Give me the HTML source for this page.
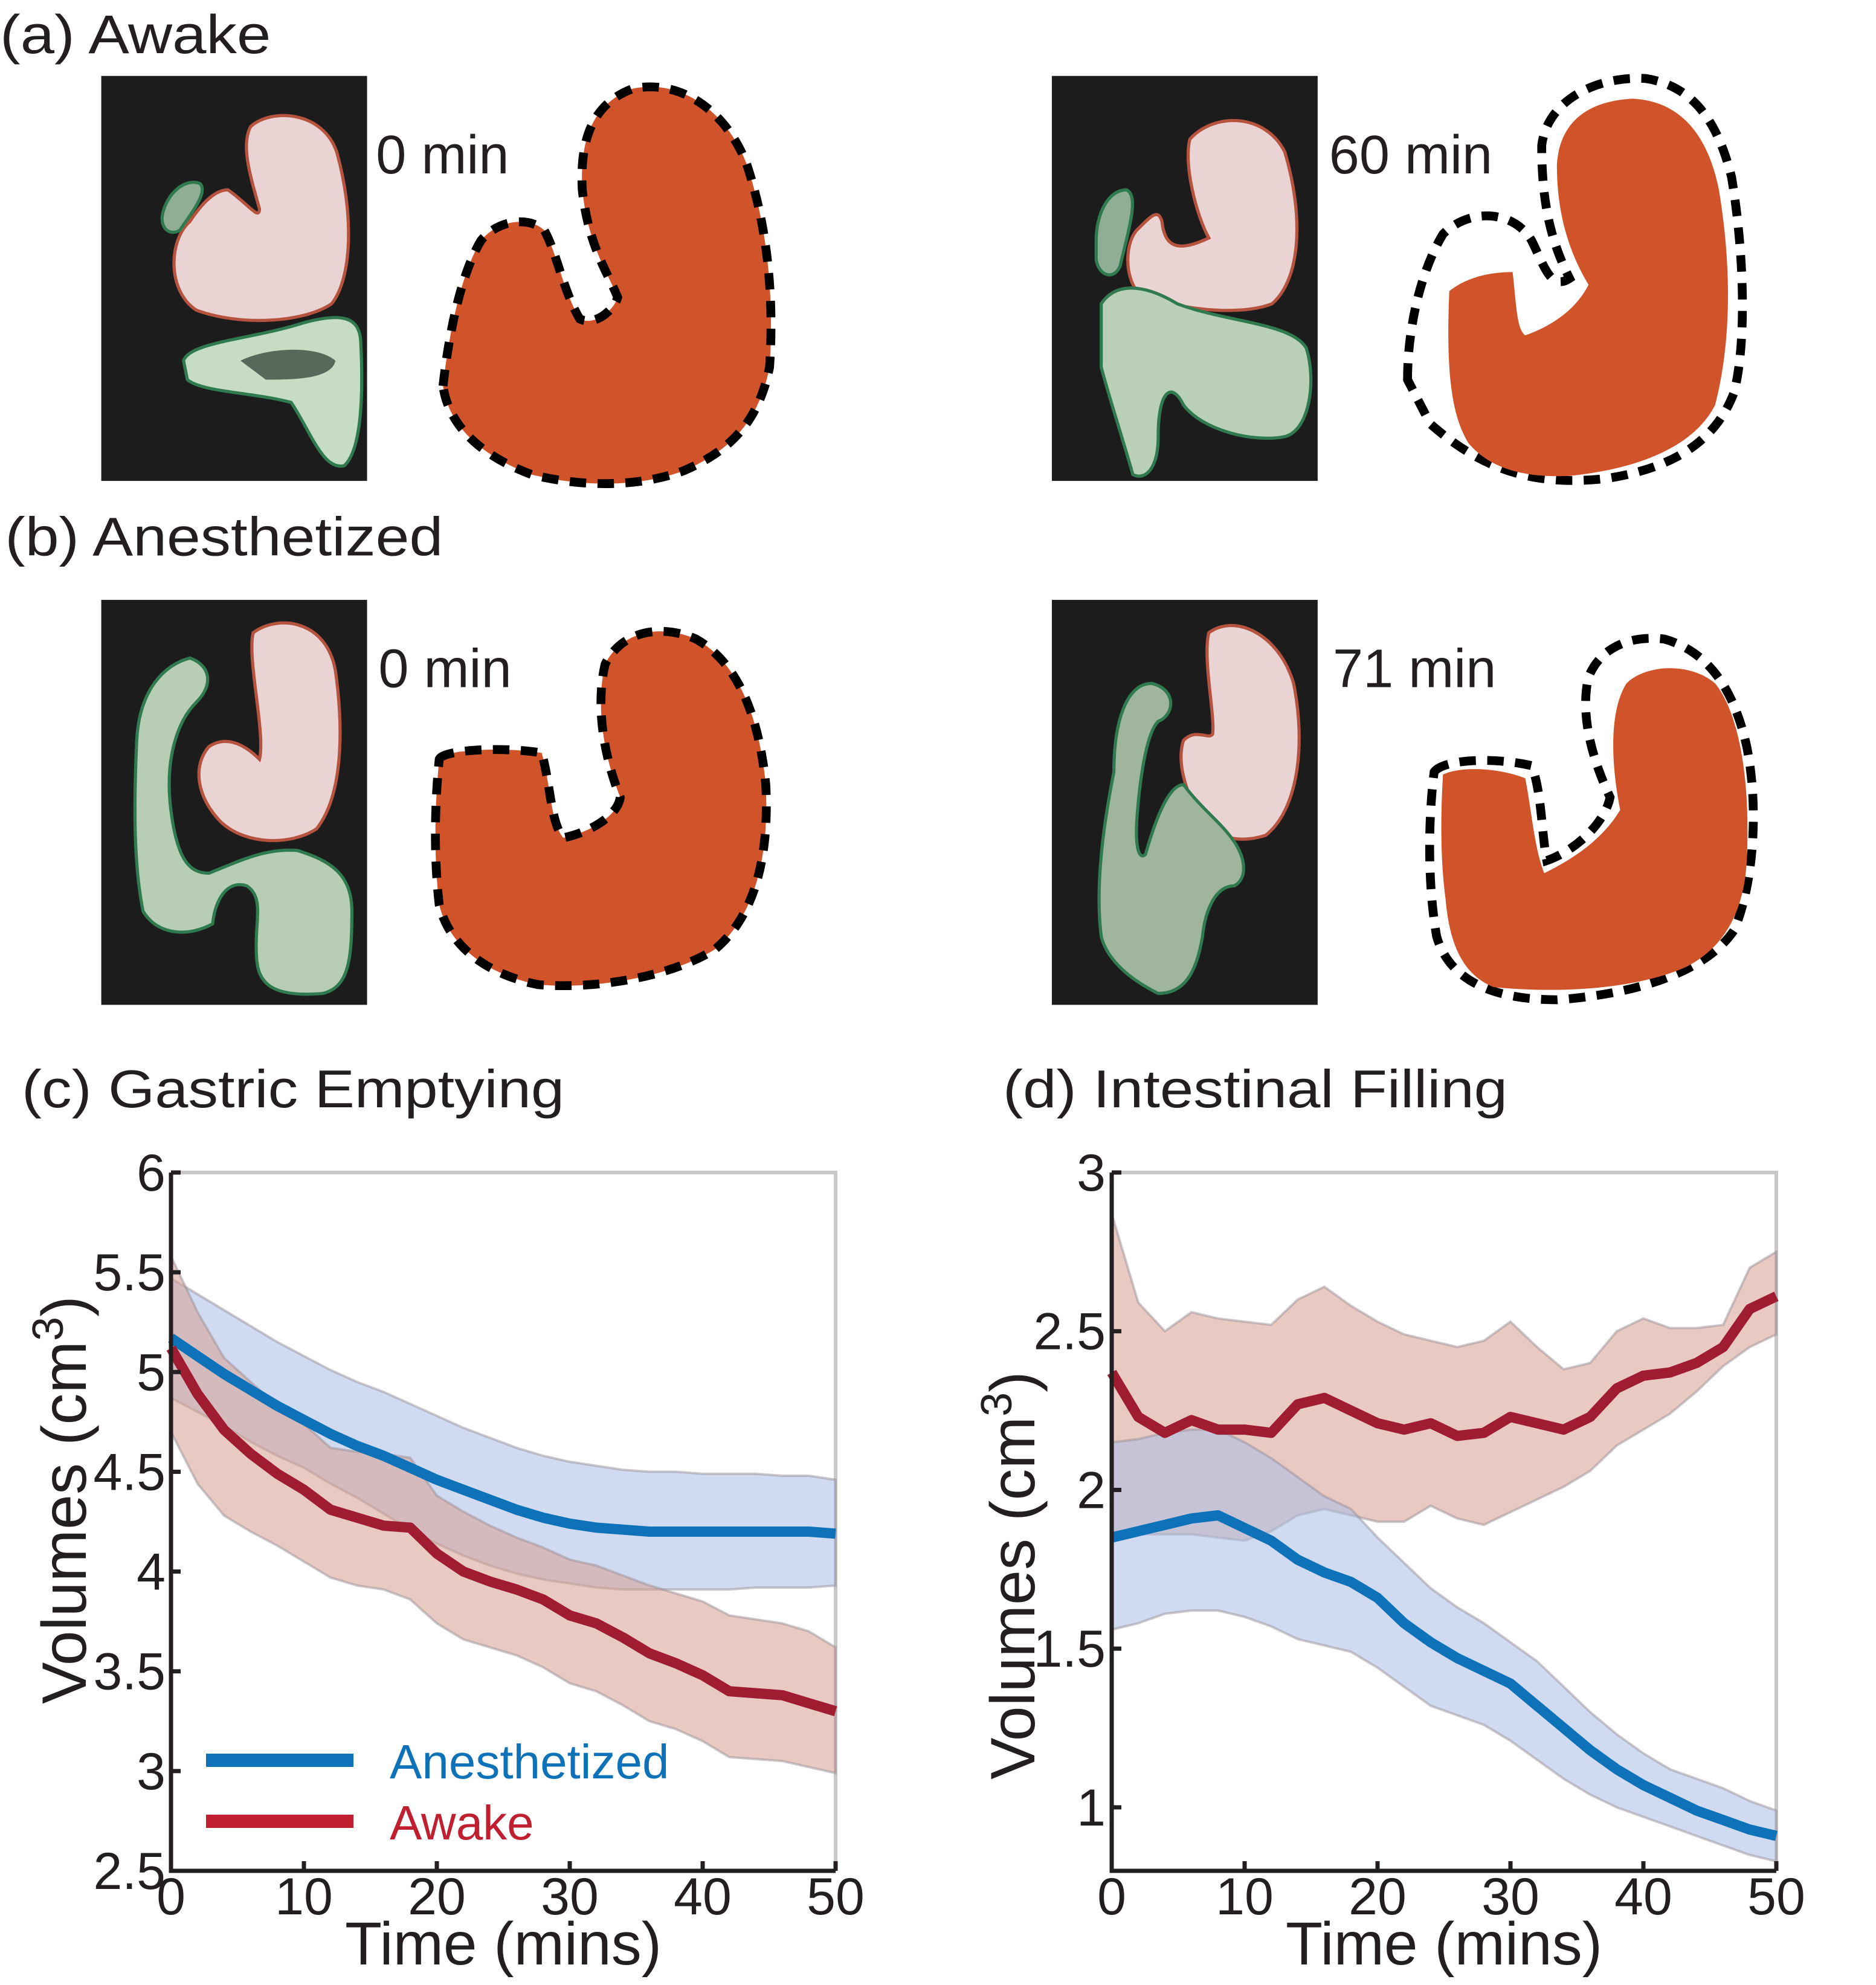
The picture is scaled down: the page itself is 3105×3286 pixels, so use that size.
<!DOCTYPE html>
<html><head><meta charset="utf-8"><style>
html,body{margin:0;padding:0;background:#fff}
svg{display:block}
text{font-family:"Liberation Sans",sans-serif;fill:#231f20}
</style></head><body>
<svg id="fig" width="3105" height="3286" viewBox="0 0 3105 3286" xmlns="http://www.w3.org/2000/svg">
<rect width="3105" height="3286" fill="#fff"/>
<g transform="scale(2.095)">
 <text x="0" y="42" font-size="43" textLength="214" lengthAdjust="spacingAndGlyphs">(a) Awake</text>
 <text x="4" y="439" font-size="43" textLength="346" lengthAdjust="spacingAndGlyphs">(b) Anesthetized</text>

 <g>
  <rect x="80" y="60" width="210" height="320" fill="#1c1c1c"/>
  <path d="M198,100 C215,85 255,88 266,120 C280,170 278,220 262,240 C240,255 190,258 155,245 C132,230 133,190 150,175 C160,160 170,150 180,150 C195,160 205,175 205,165 C198,140 190,115 198,100Z" fill="#e9d3d3" stroke="#b5533f" stroke-width="2.5"/>
  <path d="M128,172 C130,155 145,140 158,145 C165,152 150,170 142,182 C135,186 128,182 128,172Z" fill="#8fae95" stroke="#2f7a4f" stroke-width="2.5"/>
  <path d="M145,285 C150,270 200,268 240,255 C270,247 284,250 285,270 C287,310 286,355 272,368 C255,372 245,340 230,318 C200,310 160,310 148,300Z" fill="#c6dcc4" stroke="#2f7a4f" stroke-width="2.5"/>
  <path d="M190,285 C210,275 250,272 265,285 C262,300 230,300 210,300 Z" fill="#56695a"/>
 </g>
 <text x="297" y="137" font-size="43">0 min</text>
 <g>
  <path d="M350,305 C355,260 365,215 380,190 C395,172 420,172 430,182 C440,200 445,230 458,252 C470,258 485,245 488,235 C480,215 465,195 460,150 C458,110 468,82 500,70 C540,62 575,90 590,130 C605,175 612,230 608,290 C600,330 580,355 540,372 C505,385 460,385 420,375 C385,362 355,340 350,305Z" fill="#d0532a" stroke="#000" stroke-width="7" stroke-dasharray="13,9"/>
 </g>

 <g>
  <rect x="831" y="60" width="210" height="320" fill="#1c1c1c"/>
  <path d="M940,110 C960,88 1000,90 1015,120 C1030,170 1028,220 1005,240 C980,250 930,245 900,232 C888,220 888,190 900,180 C910,170 915,165 918,175 C920,195 930,200 955,188 C945,170 935,130 940,110Z" fill="#e9d3d3" stroke="#b5533f" stroke-width="2.5"/>
  <path d="M866,190 C866,170 875,150 890,150 C900,155 892,180 885,210 C880,222 868,218 866,205Z" fill="#8fae95" stroke="#2f7a4f" stroke-width="2.5"/>
  <path d="M870,240 C880,225 900,222 930,240 C970,255 1020,255 1032,275 C1040,300 1035,340 1015,345 C990,350 950,340 935,320 C925,300 915,310 915,345 C915,370 905,380 895,375 C885,340 875,310 870,290Z" fill="#b9cfb6" stroke="#2f7a4f" stroke-width="2.5"/>
 </g>
 <text x="1050" y="137" font-size="43">60 min</text>
 <g>
  <path d="M1112,300 C1112,260 1122,215 1140,185 C1160,165 1195,165 1210,190 C1220,210 1225,230 1240,220 C1225,190 1218,160 1218,115 C1222,80 1260,60 1300,62 C1340,68 1358,100 1368,140 C1378,200 1380,270 1370,310 C1355,350 1320,370 1270,378 C1210,385 1170,370 1130,335 Z" fill="none" stroke="#000" stroke-width="7" stroke-dasharray="13,9"/>
  <path d="M1145,230 C1160,218 1180,215 1195,215 C1198,240 1198,260 1205,265 C1225,258 1245,245 1255,225 C1240,200 1230,170 1230,130 C1232,100 1250,80 1290,78 C1330,80 1350,110 1358,150 C1368,210 1368,270 1355,320 C1340,350 1300,370 1240,376 C1200,378 1175,368 1160,350 C1148,330 1142,300 1145,230Z" fill="#d0532a"/>
 </g>

 <g>
  <rect x="80" y="474" width="210" height="320" fill="#1c1c1c"/>
  <path d="M200,500 C220,485 258,490 265,530 C272,580 270,630 250,655 C230,668 195,668 175,650 C155,630 152,605 165,590 C180,580 195,590 205,600 C210,580 195,520 200,500Z" fill="#e9d3d3" stroke="#b5533f" stroke-width="2.5"/>
  <path d="M108,585 C110,545 130,525 150,520 C165,525 170,540 155,555 C140,570 130,600 135,640 C140,680 150,690 165,690 C190,680 210,670 235,672 C260,680 278,690 278,720 C278,760 275,780 255,785 C220,788 205,780 203,760 C200,730 210,710 195,700 C180,695 170,710 168,730 C150,740 125,740 113,720 C105,680 106,630 108,585Z" fill="#b7ceb4" stroke="#2f7a4f" stroke-width="2.5"/>
 </g>
 <text x="299" y="543" font-size="43">0 min</text>
 <g>
  <path d="M347,600 C350,592 400,590 428,595 C435,620 435,650 445,662 C465,658 488,645 490,630 C478,600 470,560 478,525 C490,500 520,492 550,505 C585,525 600,570 605,620 C608,680 595,725 565,750 C530,772 470,782 425,778 C385,770 355,748 347,715 C343,680 343,640 347,600Z" fill="#d0532a" stroke="#000" stroke-width="7" stroke-dasharray="13,9"/>
 </g>

 <g>
  <rect x="831" y="474" width="210" height="320" fill="#1c1c1c"/>
  <path d="M955,500 C975,485 1010,500 1022,540 C1032,590 1025,640 1000,660 C975,668 955,660 945,640 C935,620 930,600 935,585 C945,575 955,585 958,580 C960,565 950,520 955,500Z" fill="#e9d3d3" stroke="#b5533f" stroke-width="2.5"/>
  <path d="M880,610 C880,570 890,540 910,540 C930,545 928,565 915,570 C905,580 900,620 898,650 C897,670 900,680 905,675 C915,640 925,620 935,620 C950,640 965,650 975,665 C985,680 985,695 975,700 C960,700 952,720 950,740 C945,770 935,785 915,785 C895,775 875,760 870,740 C865,700 872,650 880,610Z" fill="#9fb69c" stroke="#2f7a4f" stroke-width="2.5"/>
 </g>
 <text x="1053" y="543" font-size="43">71 min</text>
 <g>
  <path d="M1133,610 C1140,600 1180,598 1210,605 C1218,625 1218,660 1222,680 C1245,672 1268,650 1272,630 C1258,600 1248,565 1255,535 C1265,510 1290,502 1315,505 C1350,515 1370,545 1380,590 C1390,640 1385,700 1370,735 C1350,765 1300,785 1230,790 C1180,790 1145,775 1135,740 C1128,700 1128,650 1133,610Z" fill="none" stroke="#000" stroke-width="7" stroke-dasharray="13,9"/>
  <path d="M1140,612 C1155,605 1185,607 1205,615 C1210,640 1212,670 1220,690 C1240,680 1265,665 1280,640 C1272,600 1272,560 1285,540 C1300,525 1335,523 1355,540 C1375,565 1383,620 1380,680 C1378,720 1362,750 1330,765 C1290,782 1230,785 1180,780 C1155,770 1145,745 1142,710 C1138,680 1138,645 1140,612Z" fill="#d0532a"/>
 </g>
</g>

<text x="36" y="1833" font-size="88" textLength="898" lengthAdjust="spacingAndGlyphs">(c) Gastric Emptying</text>
<text x="1660" y="1833" font-size="88" textLength="835" lengthAdjust="spacingAndGlyphs">(d) Intestinal Filling</text>
<g id="chartC"></g>
<g id="chartD"></g>
</svg>
<script>
const times = [0,2,4,6,8,10,12,14,16,18,20,22,24,26,28,30,32,34,36,38,40,42,44,46,48,50];
const xTicks = [0,10,20,30,40,50];
const cYTicks = [6,5.5,5,4.5,4,3.5,3,2.5];
const cAnesMean = [5.17,5.08,4.99,4.91,4.83,4.76,4.69,4.63,4.58,4.52,4.46,4.41,4.36,4.31,4.27,4.24,4.22,4.21,4.20,4.20,4.20,4.20,4.20,4.20,4.20,4.19];
const cAnesUpper = [5.47,5.39,5.31,5.23,5.15,5.08,5.01,4.95,4.90,4.84,4.78,4.72,4.67,4.62,4.58,4.55,4.53,4.51,4.50,4.50,4.49,4.49,4.49,4.48,4.48,4.46];
const cAnesLower = [4.87,4.80,4.73,4.65,4.58,4.52,4.44,4.37,4.29,4.21,4.14,4.08,4.03,3.99,3.96,3.94,3.92,3.91,3.91,3.91,3.91,3.91,3.92,3.92,3.92,3.93];
const cAwakeMean = [5.12,4.89,4.71,4.59,4.49,4.41,4.31,4.27,4.23,4.22,4.09,4.00,3.95,3.91,3.86,3.78,3.74,3.67,3.59,3.54,3.48,3.40,3.39,3.38,3.34,3.30];
const cAwakeUpper = [5.58,5.30,5.07,4.95,4.83,4.74,4.62,4.60,4.59,4.57,4.38,4.30,4.23,4.17,4.12,4.06,4.03,3.98,3.93,3.89,3.85,3.78,3.76,3.74,3.70,3.62];
const cAwakeLower = [4.70,4.44,4.28,4.20,4.13,4.05,3.97,3.93,3.91,3.86,3.74,3.66,3.62,3.58,3.52,3.44,3.40,3.33,3.25,3.21,3.15,3.07,3.06,3.05,3.02,2.99];
const dYTicks = [3,2.5,2,1.5,1];
const dAnesMean = [1.85,1.87,1.89,1.91,1.92,1.88,1.84,1.78,1.74,1.71,1.66,1.58,1.52,1.47,1.43,1.39,1.32,1.25,1.18,1.12,1.07,1.03,0.99,0.96,0.93,0.91];
const dAnesUpper = [2.15,2.16,2.18,2.19,2.19,2.15,2.10,2.04,1.98,1.94,1.85,1.77,1.69,1.63,1.58,1.52,1.46,1.38,1.30,1.23,1.17,1.12,1.09,1.06,1.02,0.99];
const dAnesLower = [1.56,1.58,1.61,1.62,1.62,1.60,1.57,1.53,1.51,1.49,1.44,1.38,1.32,1.29,1.26,1.21,1.15,1.09,1.04,1.00,0.97,0.94,0.91,0.88,0.85,0.83];
const dAwakeMean = [2.37,2.23,2.18,2.22,2.19,2.19,2.18,2.27,2.29,2.25,2.21,2.19,2.21,2.17,2.18,2.23,2.21,2.19,2.23,2.32,2.36,2.37,2.40,2.45,2.57,2.61];
const dAwakeUpper = [2.87,2.59,2.50,2.56,2.54,2.53,2.52,2.60,2.64,2.58,2.53,2.49,2.47,2.45,2.47,2.53,2.45,2.38,2.40,2.50,2.54,2.51,2.51,2.52,2.70,2.75];
const dAwakeLower = [1.87,1.86,1.86,1.86,1.85,1.84,1.87,1.92,1.94,1.92,1.90,1.90,1.95,1.91,1.89,1.93,1.97,2.01,2.06,2.14,2.19,2.24,2.31,2.39,2.45,2.49];

const NS = 'http://www.w3.org/2000/svg';
function mk(parent, tag, attrs, txt){
  const e = document.createElementNS(NS, tag);
  for (const k in attrs) e.setAttribute(k, attrs[k]);
  if (txt !== undefined) e.textContent = txt;
  parent.appendChild(e);
  return e;
}
function drawChart(g, L, R, T, B, ymin, ymax, yTicks, yLabelX, axisLabelX, axisLabelY, series, legend){
  const xs = v => L + (v - 0) / 50 * (R - L);
  const ys = v => B - (v - ymin) / (ymax - ymin) * (B - T);
  const frame = mk(g, 'path', {d:`M${L},${T} H${R} V${B}`, fill:'none', stroke:'#c9c7c8', 'stroke-width':6});
  
  
  series.forEach(s => {
    let d = '';
    times.forEach((t,i) => { d += (i ? 'L' : 'M') + xs(t).toFixed(1) + ',' + ys(s.up[i]).toFixed(1); });
    for (let i = times.length - 1; i >= 0; i--) d += 'L' + xs(times[i]).toFixed(1) + ',' + ys(s.lo[i]).toFixed(1);
    const p = mk(g, 'path', {d: d + 'Z', fill: s.band, 'fill-opacity': 0.55, stroke: '#9a8f98', 'stroke-opacity': 0.5, 'stroke-width': 4});
    
    
  });
  series.forEach(s => {
    let d = '';
    times.forEach((t,i) => { d += (i ? 'L' : 'M') + xs(t).toFixed(1) + ',' + ys(s.mean[i]).toFixed(1); });
    const p = mk(g, 'path', {d, fill:'none', stroke: s.line, 'stroke-width': 17, 'stroke-linejoin':'round'});
    
    
  });
  const ax = mk(g, 'path', {d:`M${L},${T} V${B} H${R}`, fill:'none', stroke:'#231f20', 'stroke-width':7});
  
  
  yTicks.forEach(v => {
    const y = ys(v);
    const tk = mk(g, 'line', {x1:L, x2:L+16, y1:y, y2:y, stroke:'#231f20', 'stroke-width':7});
    
    
    const tl = mk(g, 'text', {x: yLabelX, y: y + 30, 'font-size': 86, 'text-anchor':'end'}, String(v));
    
    
  });
  xTicks.forEach(v => {
    const x = xs(v);
    const tk = mk(g, 'line', {x1:x, x2:x, y1:B, y2:B-16, stroke:'#231f20', 'stroke-width':7});
    
    
    const tl = mk(g, 'text', {x: x, y: B + 72, 'font-size': 86, 'text-anchor':'middle'}, String(v));
    
    
  });
  const xl = mk(g, 'text', {x:(L+R)/2, y:3252, 'font-size':100, 'text-anchor':'middle'}, 'Time (mins)');
  
  
  const yl = mk(g, 'text', {x:0, y:0, 'font-size':104, 'text-anchor':'middle', transform:`translate(${axisLabelX},${axisLabelY}) rotate(-90)`});
  
  
  yl.appendChild(document.createTextNode('Volumes (cm'));
  mk(yl, 'tspan', {dy:-38, 'font-size':72}, '3');
  mk(yl, 'tspan', {dy:38}, ')');
  if (legend) {
    legend.forEach((e,i) => {
      const y = 2914 + i * 101;
      const ln = mk(g, 'line', {x1:341, x2:585, y1:y, y2:y, stroke:e.color, 'stroke-width':22});
      
      
      const t = mk(g, 'text', {x:645, y:y+30, 'font-size':80, style:'fill:'+e.color}, e.label);
      
      
    });
  }
}
drawChart(document.getElementById('chartC'), 283, 1383, 1941, 3097, 2.5, 6, cYTicks, 274, 142, 2483, [
  {name:'anesthetized', mean:cAnesMean, up:cAnesUpper, lo:cAnesLower, band:'#a9bde6', line:'#0e72b8'},
  {name:'awake', mean:cAwakeMean, up:cAwakeUpper, lo:cAwakeLower, band:'#d79e92', line:'#a01c30'}
], [{key:'anesthetized', label:'Anesthetized', color:'#0e72b8'}, {key:'awake', label:'Awake', color:'#c01f30'}]);
drawChart(document.getElementById('chartD'), 1840, 2940, 1941, 3097, 0.8, 3, dYTicks, 1830, 1712, 2608, [
  {name:'awake', mean:dAwakeMean, up:dAwakeUpper, lo:dAwakeLower, band:'#d79e92', line:'#a01c30'},
  {name:'anesthetized', mean:dAnesMean, up:dAnesUpper, lo:dAnesLower, band:'#a9bde6', line:'#0e72b8'}
], null);
</script>
</body></html>
